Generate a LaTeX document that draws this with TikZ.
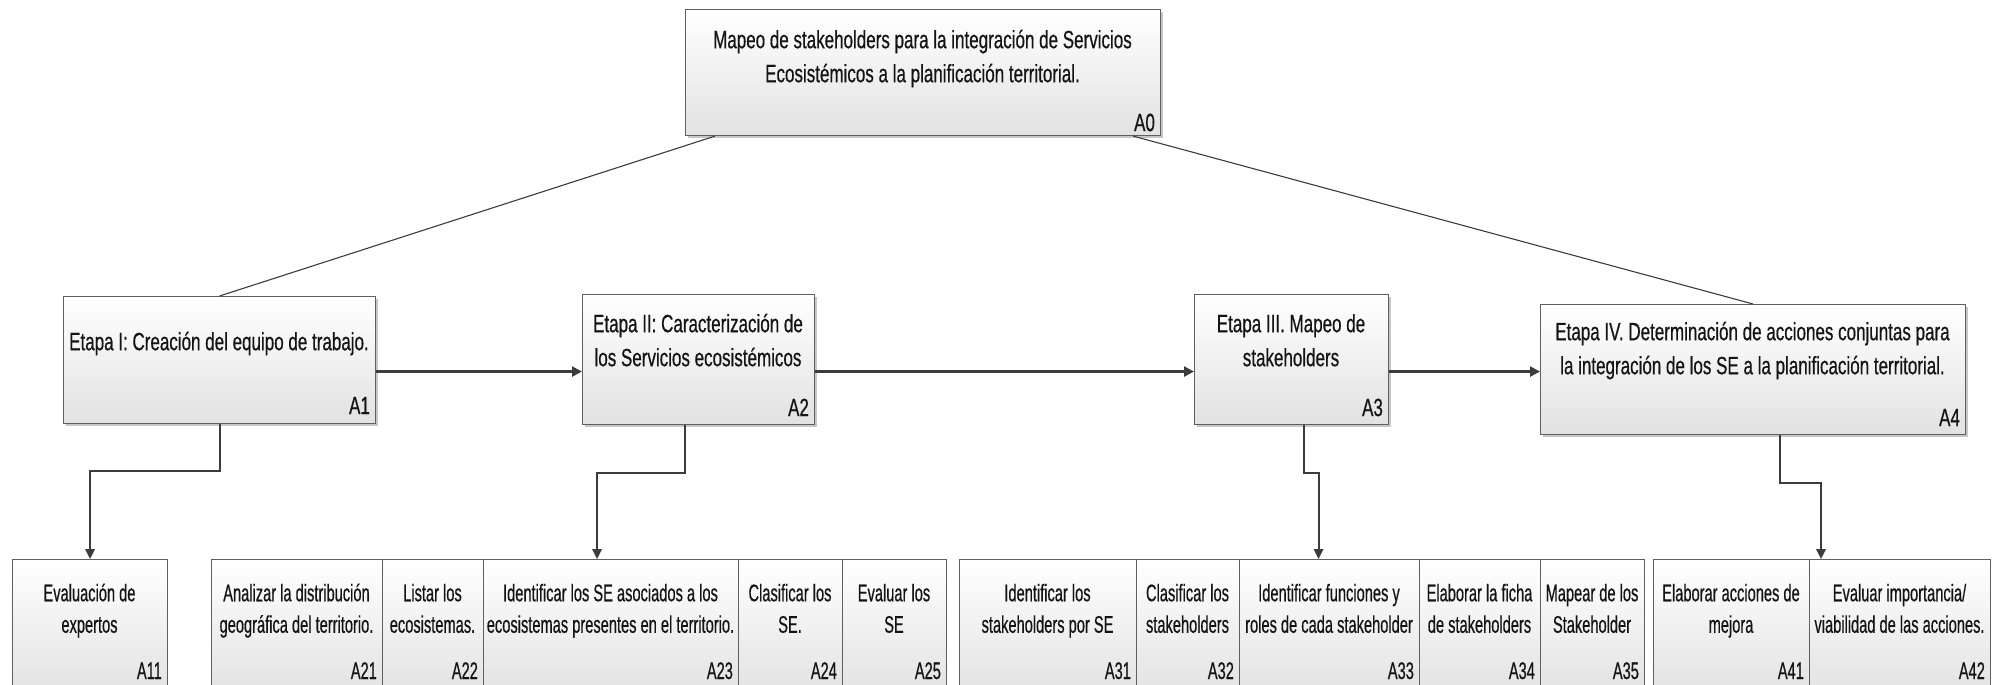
\documentclass[tikz,border=0pt]{standalone}
\usepackage{fontspec}
\setmainfont{Liberation Sans}[FakeStretch=0.68, FakeBold=0.5]
\newfontfamily\lowfam{Liberation Sans}[FakeStretch=0.61, FakeBold=0.5]
\usetikzlibrary{arrows.meta,shadows,calc}
\definecolor{bordc}{RGB}{95,95,95}
\definecolor{linec}{RGB}{60,60,60}
\definecolor{boxbot}{RGB}{226,226,226}
\definecolor{txtc}{RGB}{20,20,20}
\newcommand{\upfont}{\fontsize{25}{34}\selectfont}
\newcommand{\lowfont}{\lowfam\fontsize{24}{31.5}\selectfont}
\tikzset{
  box/.style={draw=bordc, line width=1.1pt, top color=white, bottom color=boxbot,
    inner sep=0pt, anchor=north west,
    drop shadow={shadow xshift=2pt, shadow yshift=-2pt, fill=black, opacity=0.22}},
  lowbox/.style={draw=bordc, line width=1.1pt, top color=white, bottom color=boxbot,
    inner sep=0pt, anchor=north west},
  uptext/.style={anchor=north, align=center, inner sep=0pt, font=\upfont, text=txtc},
  uplab/.style={anchor=base east, inner sep=0pt, font=\upfont, text=txtc},
  lowtext/.style={anchor=north, align=center, inner sep=0pt, font=\lowfont, text=txtc},
  lowlab/.style={anchor=base east, inner sep=0pt, font=\lowfont, text=txtc},
  conn/.style={draw=linec, line width=2pt},
  arr/.style={conn, -{Triangle[length=10pt,width=9.5pt]}},
  seqarr/.style={draw=linec, line width=2.3pt, -{Triangle[length=10pt,width=10pt]}},
  slant/.style={draw=linec, line width=1.1pt}
}
% name, x1, y1, x2, y2, first baseline, text, label, label yshift
\newcommand{\topbox}[9]{%
  \node[box, minimum width={#4-#2}, minimum height={#5-#3}] (#1) at (#2,#3) {};
  \node[uptext] (#1t) at ({(#2+#4)/2},{#6-23.8}) {\strut #7};
  \node[uplab] (#1l) at ([xshift=-6pt,yshift=#9]#1.south east) {#8};
}
% name, x1, x2, text, label
\newcommand{\lowbox}[5]{%
  \node[lowbox, minimum width={#3-#2}, minimum height=136] (#1) at (#2,559) {};
  \node[lowtext] (#1t) at ({(#2+#3)/2},579) {\strut #4};
  \node[lowlab] (#1l) at ([xshift=-6pt,yshift=-120pt]#1.north east) {#5};
}
\begin{document}
\begin{tikzpicture}[x=1pt,y=-1pt]
\fill[white] (0,0) rectangle (2008,685);
\clip (0,0) rectangle (2008,685);

\topbox{A0}{685}{9}{1160}{135}{48}{Mapeo de stakeholders para la integración de Servicios\\Ecosistémicos a la planificación territorial.}{A0}{5pt}
\topbox{A1}{63}{296}{375}{423}{350}{Etapa I: Creación del equipo de trabajo.}{A1}{10pt}
\topbox{A2}{582}{294}{814}{424}{332}{Etapa II: Caracterización de\\los Servicios ecosistémicos}{A2}{9pt}
\topbox{A3}{1194}{294}{1388}{424}{332}{Etapa III. Mapeo de\\stakeholders}{A3}{9pt}
\topbox{A4}{1540}{304}{1965}{434}{340}{Etapa IV. Determinación de acciones conjuntas para\\la integración de los SE a la planificación territorial.}{A4}{9pt}

\lowbox{A11}{12}{167}{Evaluación de\\expertos}{A11}
\lowbox{A21}{211}{382}{Analizar la distribución\\geográfica del territorio.}{A21}
\lowbox{A22}{382}{483}{Listar los\\ecosistemas.}{A22}
\lowbox{A23}{483}{738}{Identificar los SE asociados a los\\ecosistemas presentes en el territorio.}{A23}
\lowbox{A24}{738}{842}{Clasificar los\\SE.}{A24}
\lowbox{A25}{842}{946}{Evaluar los\\SE}{A25}
\lowbox{A31}{959}{1136}{Identificar los\\stakeholders por SE}{A31}
\lowbox{A32}{1136}{1239}{Clasificar los\\stakeholders}{A32}
\lowbox{A33}{1239}{1419}{Identificar funciones y\\roles de cada stakeholder}{A33}
\lowbox{A34}{1419}{1540}{Elaborar la ficha\\de stakeholders}{A34}
\lowbox{A35}{1540}{1644}{Mapear de los\\Stakeholder}{A35}
\lowbox{A41}{1653}{1809}{Elaborar acciones de\\mejora}{A41}
\lowbox{A42}{1809}{1990}{Evaluar importancia/\\viabilidad de las acciones.}{A42}

% decomposition lines from A0
\draw[slant] ([xshift=30pt]A0.south west) -- (A1.north);
\draw[slant] ([xshift=-28pt]A0.south east) -- (A4.north);

% sequence arrows
\draw[seqarr] ([yshift=-2pt]A1.east |- A4.west) -- ([yshift=-2pt]A2.west |- A4.west);
\draw[seqarr] ([yshift=-2pt]A2.east |- A4.west) -- ([yshift=-2pt]A3.west |- A4.west);
\draw[seqarr] ([yshift=-2pt]A3.east |- A4.west) -- ([yshift=-2pt]A4.west);

% downward connectors
\draw[arr] (A1.south) -- ++(0,47) -| (A11.north);
\draw[arr] ([xshift=-14pt]A2.south) -- ++(0,48) -| ([xshift=-14pt]A23.north);
\draw[arr] ([xshift=12pt]A3.south) -- ++(0,48) -| ([xshift=-11pt]A33.north);
\draw[arr] ([xshift=26.5pt]A4.south) -- ++(0,48) -| ([xshift=12pt]A42.north west);
\end{tikzpicture}
\end{document}
